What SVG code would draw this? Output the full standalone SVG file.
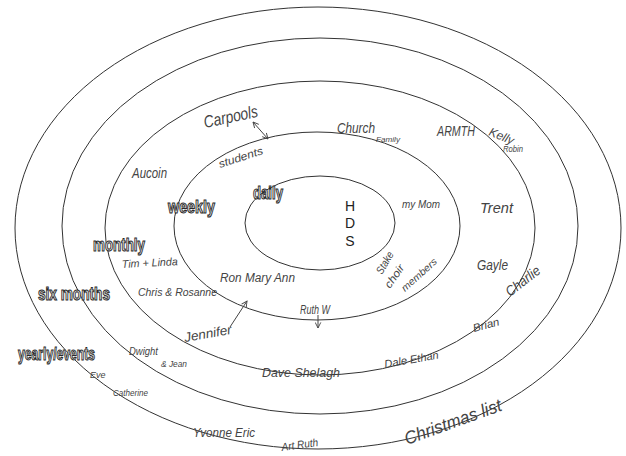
<svg xmlns="http://www.w3.org/2000/svg" width="626" height="456" viewBox="0 0 626 456">
<style>
.ring{fill:none;stroke:#333;stroke-width:1}
.band{font-family:"Liberation Sans",Arial,sans-serif;font-weight:bold;fill:#e2e2e2;stroke:#2a2a2a;stroke-width:1.1}
.hw{font-family:"Liberation Sans",Arial,sans-serif;font-style:italic;fill:#444}
.hds{font-family:"Liberation Sans",Arial,sans-serif;font-size:14px;fill:#222;text-anchor:middle}
.conn{fill:none;stroke:#444;stroke-width:1}
</style>
<defs>
<marker id="ah" viewBox="0 0 10 10" refX="9" refY="5" markerWidth="7" markerHeight="7" orient="auto-start-reverse" markerUnits="userSpaceOnUse">
<path d="M1,1 L9,5 L1,9" fill="none" stroke="#444" stroke-width="1.3"/>
</marker>
</defs>
<rect width="626" height="456" fill="#fff"/>

<g id="ring-yearly">
<ellipse class="ring" cx="318" cy="228" rx="303" ry="221"/>
<text class="band" transform="translate(18 360) scale(0.64 1)" x="0" y="0" font-size="19" stroke-width="1.4">yearly/events</text>
<text class="hw" x="90" y="378" font-size="9">Eve</text>
<text class="hw" x="113" y="396" font-size="9" textLength="35" lengthAdjust="spacingAndGlyphs">Catherine</text>
<text class="hw" x="193" y="437" font-size="12" textLength="62" lengthAdjust="spacingAndGlyphs">Yvonne Eric</text>
<text class="hw" x="282" y="451" font-size="11" textLength="37" lengthAdjust="spacingAndGlyphs" transform="rotate(-8 282 451)">Art Ruth</text>
<text class="hw" x="407" y="445" font-size="18" textLength="102" lengthAdjust="spacingAndGlyphs" transform="rotate(-20 407 445)">Christmas list</text>
</g>

<g id="ring-six-months">
<ellipse class="ring" cx="320" cy="226" rx="258" ry="188"/>
<text class="band" x="38" y="300" font-size="19" textLength="72" lengthAdjust="spacingAndGlyphs">six months</text>
<text class="hw" x="129" y="355" font-size="11" textLength="29" lengthAdjust="spacingAndGlyphs">Dwight</text>
<text class="hw" x="161" y="367" font-size="9" textLength="26" lengthAdjust="spacingAndGlyphs">&amp; Jean</text>
<text class="hw" x="474" y="332" font-size="11" textLength="27" lengthAdjust="spacingAndGlyphs" transform="rotate(-15 474 332)">Brian</text>
<text class="hw" x="510" y="297" font-size="14" textLength="40" lengthAdjust="spacingAndGlyphs" transform="rotate(-38 510 297)">Charlie</text>
</g>

<g id="ring-monthly">
<ellipse class="ring" cx="320" cy="228" rx="215" ry="147"/>
<text class="band" x="93" y="251" font-size="19" textLength="52" lengthAdjust="spacingAndGlyphs">monthly</text>
<text class="hw" x="205" y="128" font-size="17" textLength="55" lengthAdjust="spacingAndGlyphs" transform="rotate(-12 205 128)">Carpools</text>
<text class="hw" x="132" y="178" font-size="14" textLength="35" lengthAdjust="spacingAndGlyphs">Aucoin</text>
<text class="hw" x="437" y="136" font-size="14" textLength="38" lengthAdjust="spacingAndGlyphs">ARMTH</text>
<text class="hw" x="488" y="135" font-size="12" textLength="26" lengthAdjust="spacingAndGlyphs" transform="rotate(22 488 135)">Kelly</text>
<text class="hw" x="503" y="152" font-size="9" textLength="20" lengthAdjust="spacingAndGlyphs">Robin</text>
<text class="hw" x="480" y="213" font-size="14" textLength="33" lengthAdjust="spacingAndGlyphs">Trent</text>
<text class="hw" x="477" y="270" font-size="15" textLength="31" lengthAdjust="spacingAndGlyphs">Gayle</text>
<text class="hw" x="122" y="268" font-size="11" textLength="56" lengthAdjust="spacingAndGlyphs" transform="rotate(-3 122 268)">Tim + Linda</text>
<text class="hw" x="138" y="296" font-size="11" textLength="79" lengthAdjust="spacingAndGlyphs">Chris &amp; Rosanne</text>
<text class="hw" x="185" y="342" font-size="13" textLength="48" lengthAdjust="spacingAndGlyphs" transform="rotate(-10 185 342)">Jennifer</text>
<text class="hw" x="262" y="377" font-size="13" textLength="78" lengthAdjust="spacingAndGlyphs">Dave Shelagh</text>
<text class="hw" x="385" y="368" font-size="11" textLength="55" lengthAdjust="spacingAndGlyphs" transform="rotate(-10 385 368)">Dale Ethan</text>
</g>

<g id="ring-weekly">
<ellipse class="ring" cx="317" cy="226" rx="143" ry="94"/>
<text class="band" x="168" y="213" font-size="19" textLength="47" lengthAdjust="spacingAndGlyphs">weekly</text>
<text class="hw" x="220" y="168" font-size="11" textLength="46" lengthAdjust="spacingAndGlyphs" transform="rotate(-18 220 168)">students</text>
<text class="hw" x="337" y="133" font-size="15" textLength="38" lengthAdjust="spacingAndGlyphs">Church</text>
<text class="hw" x="376" y="142" font-size="8" textLength="24" lengthAdjust="spacingAndGlyphs">Family</text>
<text class="hw" x="402" y="208" font-size="11" textLength="38" lengthAdjust="spacingAndGlyphs">my Mom</text>
<text class="hw" x="220" y="282" font-size="12" textLength="75" lengthAdjust="spacingAndGlyphs">Ron Mary Ann</text>
<text class="hw" x="300" y="314" font-size="12" textLength="30" lengthAdjust="spacingAndGlyphs">Ruth W</text>
<text class="hw" x="382" y="275" font-size="11" textLength="24" lengthAdjust="spacingAndGlyphs" transform="rotate(-60 382 275)">Stake</text>
<text class="hw" x="390" y="289" font-size="11" textLength="26" lengthAdjust="spacingAndGlyphs" transform="rotate(-55 390 289)">choir</text>
<text class="hw" x="405" y="292" font-size="10" textLength="44" lengthAdjust="spacingAndGlyphs" transform="rotate(-42 405 292)">members</text>
</g>

<g id="ring-daily">
<ellipse class="ring" cx="320" cy="223" rx="75" ry="47"/>
<text class="band" x="253" y="199" font-size="19" textLength="30" lengthAdjust="spacingAndGlyphs">daily</text>
</g>

<g id="center-hds">
<text class="hds" x="350" y="211">H</text>
<text class="hds" x="350" y="228">D</text>
<text class="hds" x="350" y="246">S</text>
</g>

<g id="connectors">
<line class="conn" x1="253" y1="122" x2="268" y2="139" marker-start="url(#ah)" marker-end="url(#ah)"/>
<line class="conn" x1="230" y1="327" x2="247" y2="301" marker-end="url(#ah)"/>
<line class="conn" x1="318" y1="315" x2="318" y2="328" marker-end="url(#ah)"/>
</g>
</svg>
